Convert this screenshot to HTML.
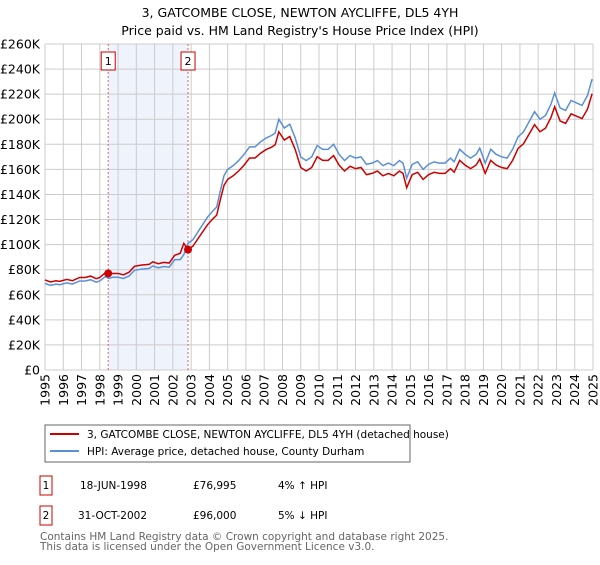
<!DOCTYPE html>
<html><head><meta charset="utf-8"><style>
body{margin:0;background:#fff;font-family:"Liberation Sans","DejaVu Sans",sans-serif;}
svg text{font-family:"DejaVu Sans","Liberation Sans",sans-serif;}
</style></head><body>
<svg id="c" width="600" height="560" viewBox="0 0 600 560">
<text x="300" y="17" text-anchor="middle" font-size="12.5" fill="#000">3, GATCOMBE CLOSE, NEWTON AYCLIFFE, DL5 4YH</text>
<text x="300" y="35" text-anchor="middle" font-size="12.5" fill="#000">Price paid vs. HM Land Registry's House Price Index (HPI)</text>
<g id="plot"></g>
<g>
<rect x="45" y="425" width="365" height="37" fill="#fff" stroke="#666"/>
<line x1="50" y1="434" x2="79" y2="434" stroke="#cc0000" stroke-width="2"/>
<text x="87" y="438" font-size="10.5">3, GATCOMBE CLOSE, NEWTON AYCLIFFE, DL5 4YH (detached house)</text>
<line x1="50" y1="451" x2="79" y2="451" stroke="#5b8fd6" stroke-width="2"/>
<text x="87" y="455" font-size="10.5">HPI: Average price, detached house, County Durham</text>
</g>
<g font-size="10.5">
<rect x="40" y="476" width="12" height="19" fill="#fff" stroke="#cc0000"/>
<text x="46" y="489" text-anchor="middle">1</text>
<text x="80" y="489">18-JUN-1998</text>
<text x="193" y="489">£76,995</text>
<text x="278" y="489">4% ↑ HPI</text>
<rect x="40" y="506" width="12" height="19" fill="#fff" stroke="#cc0000"/>
<text x="46" y="519" text-anchor="middle">2</text>
<text x="78" y="519">31-OCT-2002</text>
<text x="193" y="519">£96,000</text>
<text x="278" y="519">5% ↓ HPI</text>
</g>
<text x="40" y="540" font-size="10.5" fill="#666">Contains HM Land Registry data © Crown copyright and database right 2025.</text>
<text x="40" y="550" font-size="10.5" fill="#666">This data is licensed under the Open Government Licence v3.0.</text>
</svg>
<script>
const yTicks=[0,20000,40000,60000,80000,100000,120000,140000,160000,180000,200000,220000,240000,260000];
const yTickLabels=["£0","£20K","£40K","£60K","£80K","£100K","£120K","£140K","£160K","£180K","£200K","£220K","£240K","£260K"];
const xYears=[1995,1996,1997,1998,1999,2000,2001,2002,2003,2004,2005,2006,2007,2008,2009,2010,2011,2012,2013,2014,2015,2016,2017,2018,2019,2020,2021,2022,2023,2024,2025];
const dates=[1995.0,1995.3,1995.6,1995.8,1996.2,1996.5,1996.9,1997.2,1997.5,1997.8,
1998.0,1998.3,1998.5,1998.7,1999.0,1999.3,1999.6,1999.9,2000.3,2000.7,
2000.9,2001.2,2001.5,2001.8,2002.1,2002.4,2002.6,2002.83,2003.1,2003.5,
2003.9,2004.2,2004.4,2004.6,2004.8,2005.0,2005.3,2005.6,2005.9,2006.2,
2006.5,2006.8,2007.1,2007.4,2007.6,2007.8,2008.1,2008.4,2008.7,2009.0,
2009.3,2009.6,2009.9,2010.2,2010.5,2010.8,2011.1,2011.4,2011.7,2012.0,
2012.3,2012.6,2012.9,2013.2,2013.5,2013.8,2014.1,2014.4,2014.6,2014.8,
2015.1,2015.4,2015.7,2016.0,2016.3,2016.6,2016.9,2017.2,2017.4,2017.7,
2018.0,2018.3,2018.6,2018.8,2019.1,2019.4,2019.7,2020.0,2020.3,2020.6,
2020.9,2021.2,2021.5,2021.8,2022.1,2022.4,2022.7,2022.9,2023.2,2023.5,
2023.8,2024.1,2024.4,2024.7,2024.95];
const hpiK=[69,67.5,68.5,68,69.5,68.5,71,71,72,70,
71,74.5,73,74,74,73,75,79.5,80.5,81,
83,81.5,82.5,82,88,88,92,101,104,113,
122,127,130,143,155,160,163,167,172,178,
178,182,185,187,189,200,193,196,185,170,
167,170,179,176,176,180,172,167,171,169,
170,164,165,167,163,165,163,167,165,153,
164,166,160,164,166,165,165,169,166,176,
172,169,172,177,165,176,172,170,169,176,
186,190,198,206,200,203,212,221,209,207,
215,213,211,219,232];
const priceK=[71.8,70.2,71.2,70.7,72.3,71.2,73.8,73.8,74.9,72.8,
73.8,77.5,75.9,77,77,75.9,78,82.7,83.7,84.2,
86.3,84.8,85.8,85.3,91.5,93,101,96,98.8,107.4,
115.9,120.7,123.5,135.9,147.3,152,154.9,158.7,163.4,169.1,
169.1,172.9,175.8,177.7,179.6,190,183.4,186.2,175.8,161.5,
158.7,161.5,170.1,167.2,167.2,171,163.4,158.7,162.5,160.6,
161.5,155.8,156.8,158.7,154.9,156.8,154.9,158.7,156.8,145.4,
155.8,157.7,152,155.8,157.7,156.8,156.8,160.6,157.7,167.2,
163.4,160.6,163.4,168.2,156.8,167.2,163.4,161.5,160.6,167.2,
176.7,180.5,188.1,195.7,190,192.9,201.4,210,198.6,196.7,
204.3,202.4,200.5,208.1,220.4];
const saleDates=[1998.46,2002.83];
const salePrices=[76995,96000];
const saleLabels=["1","2"];

const X0=45,X1=593,Y0=370,Y1=44;
const xs=t=>X0+(t-1995)/30*(X1-X0);
const ys=v=>Y0-v/260000*(Y0-Y1);
const NS="http://www.w3.org/2000/svg";
const g=document.getElementById('plot');
function mk(tag,at,parent){const e=document.createElementNS(NS,tag);for(const k in at)e.setAttribute(k,at[k]);(parent||g).appendChild(e);return e;}

const shade=mk('rect',{x:xs(saleDates[0]),y:Y1,width:xs(saleDates[1])-xs(saleDates[0]),height:Y0-Y1,fill:'#eef3fc'});


yTicks.forEach((v,i)=>{
  const l=mk('line',{x1:X0,x2:X1,y1:ys(v),y2:ys(v),stroke:'#cccccc','stroke-width':1});
  
  
  const t=mk('text',{x:40,y:ys(v)+4.5,'text-anchor':'end','font-size':12.5});
  t.textContent=yTickLabels[i];
  
  
});
xYears.forEach(yr=>{
  const l=mk('line',{x1:xs(yr),x2:xs(yr),y1:Y1,y2:Y0,stroke:'#cccccc','stroke-width':1});
  
  
  const tx=xs(yr)+4.5, ty=374;
  const t=mk('text',{x:tx,y:ty,'text-anchor':'end','font-size':12.5});
  t.setAttribute('transform','rotate(-90,'+tx+','+ty+')');
  t.textContent=yr;
  
  
});
saleDates.forEach((d,i)=>{
  const l=mk('line',{x1:xs(d),x2:xs(d),y1:Y1,y2:Y0,stroke:'#e06060','stroke-width':1,'stroke-dasharray':'2,2'});
  
  
  const r=mk('rect',{x:xs(d)-7,y:52,width:14,height:18,fill:'#fff',stroke:'#cc0000'});
  
  
  const t=mk('text',{x:xs(d),y:65,'text-anchor':'middle','font-size':11});
  t.textContent=saleLabels[i];
  
  
});
const hp=mk('polyline',{points:dates.map((d,i)=>xs(d)+','+ys(hpiK[i]*1000)).join(' '),fill:'none',stroke:'#5b8fd6','stroke-width':1.5});


const pp=mk('polyline',{points:dates.map((d,i)=>xs(d)+','+ys(priceK[i]*1000)).join(' '),fill:'none',stroke:'#cc0000','stroke-width':1.5});


saleDates.forEach((d,i)=>{
  const c=mk('circle',{cx:xs(d),cy:ys(salePrices[i]),r:4,fill:'#cc0000'});
  
  
});
</script>
</body></html>
